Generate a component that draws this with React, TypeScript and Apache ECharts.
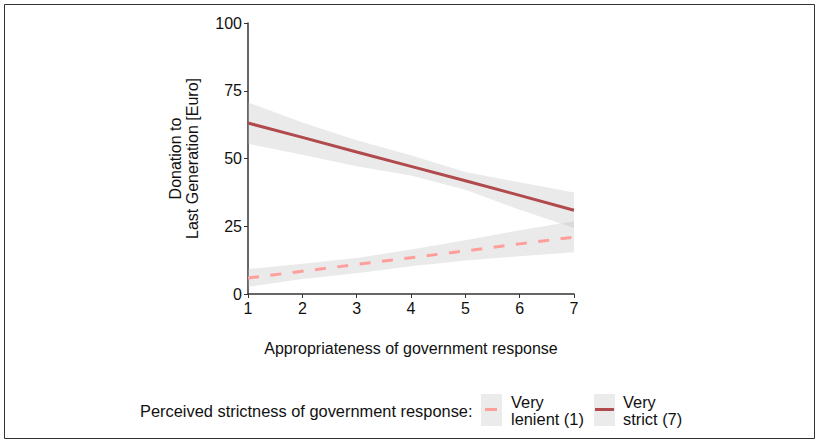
import React, { useEffect, useRef } from "react";
import * as echarts from "echarts";

const xValues = [1, 2, 3, 4, 5, 6, 7];
const strictFit = [63.1, 57.8, 52.4, 47.1, 41.8, 36.4, 30.9];
const strictLower = [55.4, 51.4, 47.1, 43.7, 38.5, 31.1, 24.4];
const strictUpper = [70.7, 63.3, 56.7, 51.2, 45.0, 41.2, 37.5];
const lenientFit = [5.9, 8.4, 10.9, 13.4, 15.9, 18.5, 21.0];
const lenientLower = [2.6, 5.5, 7.7, 10.2, 12.4, 13.9, 15.4];
const lenientUpper = [9.2, 11.2, 13.3, 16.4, 19.8, 23.5, 26.8];
const yTicks = [0, 25, 50, 75, 100];

const FONT = "Liberation Sans, Arial, sans-serif";
const STRICT_COLOR = "#b04a4c";
const LENIENT_COLOR = "#ff9f9c";
const BAND_COLOR = "rgba(185,185,190,0.3)";

function pairs(ys: number[]) {
  return xValues.map((x, i) => [x, ys[i]]);
}

function bandSeries(lower: number[], upper: number[]) {
  return {
    type: "custom",
    silent: true,
    data: xValues.map((x, i) => [x, lower[i], upper[i]]),
    encode: { x: 0, y: [1, 2] },
    renderItem: (params: any, api: any) => {
      if (params.dataIndex !== 0) return { type: "group", children: [] };
      const pts: number[][] = [];
      xValues.forEach((x, i) => pts.push(api.coord([x, upper[i]])));
      for (let i = xValues.length - 1; i >= 0; i--) pts.push(api.coord([xValues[i], lower[i]]));
      return {
        type: "polygon",
        shape: { points: pts },
        style: { fill: BAND_COLOR, stroke: "none" },
      };
    },
  };
}

export default function App() {
  const ref = useRef<HTMLDivElement>(null);
  useEffect(() => {
    const chart = echarts.init(ref.current!, null, { renderer: "svg" });
    chart.setOption({
      animation: false,
      backgroundColor: "#ffffff",
      grid: { left: 248, right: 244, top: 23, bottom: 148, containLabel: false },
      xAxis: {
        type: "value",
        min: 1,
        max: 7,
        interval: 1,
        name: "Appropriateness of government response",
        nameLocation: "middle",
        nameGap: 46,
        nameTextStyle: { fontFamily: FONT, fontSize: 16, color: "#111" },
        axisLine: { show: true, onZero: false, lineStyle: { color: "#333", width: 1.5 } },
        axisTick: { show: true, length: 4, lineStyle: { color: "#333" } },
        axisLabel: { fontFamily: FONT, fontSize: 16, color: "#111", margin: 6 },
        splitLine: { show: false },
      },
      yAxis: {
        type: "value",
        min: 0,
        max: 100,
        interval: 25,
        name: "Donation to\nLast Generation [Euro]",
        nameLocation: "middle",
        nameGap: 47,
        nameRotate: 90,
        nameTextStyle: { fontFamily: FONT, fontSize: 16, color: "#111", lineHeight: 17 },
        axisLine: { show: true, lineStyle: { color: "#333", width: 1.5 } },
        axisTick: { show: true, length: 4, lineStyle: { color: "#333" } },
        axisLabel: {
          fontFamily: FONT,
          fontSize: 16,
          color: "#111",
          margin: 6,
          formatter: (v: number) => (yTicks.includes(v) ? String(v) : ""),
        },
        splitLine: { show: false },
      },
      series: [
        bandSeries(strictLower, strictUpper),
        bandSeries(lenientLower, lenientUpper),
        {
          name: "Very strict (7)",
          type: "line",
          data: pairs(strictFit),
          symbol: "none",
          lineStyle: { color: STRICT_COLOR, width: 3 },
        },
        {
          name: "Very lenient (1)",
          type: "line",
          data: pairs(lenientFit),
          symbol: "none",
          lineStyle: { color: LENIENT_COLOR, width: 3, type: [11, 11.5] },
        },
      ],
      graphic: [
        {
          type: "rect",
          shape: { x: 4.5, y: 4.5, width: 810, height: 434 },
          style: { fill: "none", stroke: "#333", lineWidth: 1 },
          silent: true,
        },
        {
          type: "text",
          x: 140,
          y: 411,
          style: {
            text: "Perceived strictness of government response:",
            fontFamily: FONT,
            fontSize: 16.4,
            fill: "#111",
            verticalAlign: "middle",
          },
        },
        { type: "rect", shape: { x: 481, y: 394, width: 21, height: 32 }, style: { fill: "#ebebeb" } },
        {
          type: "line",
          shape: { x1: 485, y1: 409.5, x2: 497, y2: 409.5 },
          style: { stroke: LENIENT_COLOR, lineWidth: 3 },
        },
        {
          type: "text",
          x: 511,
          y: 410,
          style: {
            text: "Very\nlenient (1)",
            fontFamily: FONT,
            fontSize: 16.4,
            lineHeight: 17,
            fill: "#111",
            verticalAlign: "middle",
          },
        },
        { type: "rect", shape: { x: 594, y: 394, width: 21, height: 32 }, style: { fill: "#ebebeb" } },
        {
          type: "line",
          shape: { x1: 595, y1: 409.5, x2: 614, y2: 409.5 },
          style: { stroke: STRICT_COLOR, lineWidth: 3 },
        },
        {
          type: "text",
          x: 623,
          y: 410,
          style: {
            text: "Very\nstrict (7)",
            fontFamily: FONT,
            fontSize: 16.4,
            lineHeight: 17,
            fill: "#111",
            verticalAlign: "middle",
          },
        },
      ],
    });
    return () => chart.dispose();
  }, []);
  return (
    <div
      ref={ref}
      style={{ position: "fixed", left: 0, top: 0, width: 818, height: 442 }}
    />
  );
}
